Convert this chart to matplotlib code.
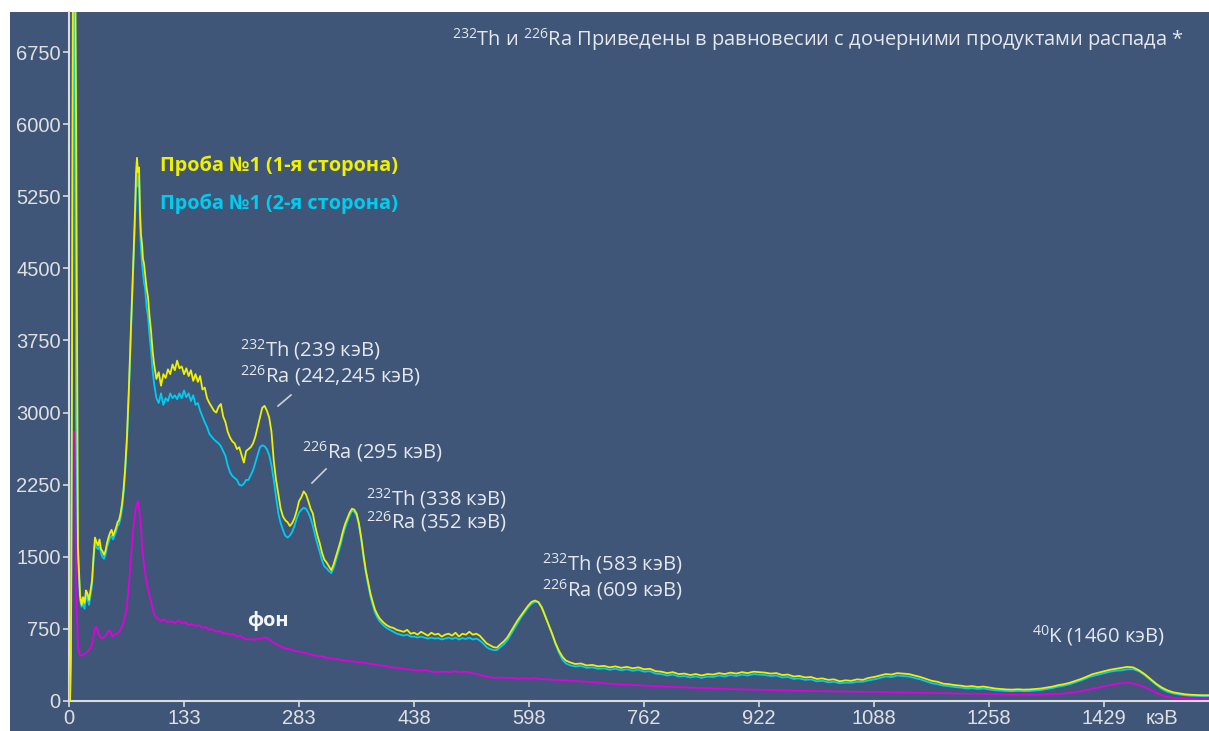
import matplotlib
matplotlib.use("Agg")
import matplotlib.pyplot as plt
from matplotlib.lines import Line2D
from matplotlib.patches import Rectangle

plt.rcParams['font.family'] = ['Open Sans', 'DejaVu Sans']
plt.rcParams['mathtext.fontset'] = 'custom'
plt.rcParams['mathtext.rm'] = 'Open Sans'
plt.rcParams['mathtext.it'] = 'Open Sans'
plt.rcParams['mathtext.bf'] = 'Open Sans:bold'

# ---------------- data (channel, counts) ----------------
tick_channels = [0, 100, 200, 300, 400, 500, 600, 700, 800, 900]
tick_labels_kev = ["0", "133", "283", "438", "598", "762", "922", "1088", "1258", "1429"]
y_ticks = [0, 750, 1500, 2250, 3000, 3750, 4500, 5250, 6000, 6750]

side1 = [(0, 0), (0.9, 0), (1.7, 500), (2.6, 3400), (3.5, 8000), (5.2, 8000), (6.1, 6300), (7.8, 1600),
         (9.6, 1100), (11, 1000), (12.2, 1080), (13.5, 1020), (14.8, 1150), (16, 1120), (17.4, 1050),
         (18.7, 1150), (20, 1250), (21.3, 1500), (22.6, 1700), (24, 1650), (25.2, 1620), (26.5, 1680),
         (27.8, 1580), (29, 1560), (30.4, 1520), (31.7, 1560), (33, 1640), (34.3, 1700), (35.7, 1750),
         (37, 1780), (38.3, 1720), (39.6, 1760), (40.9, 1800), (42.2, 1860), (43.5, 1880), (44.8, 1950),
         (46.1, 2050), (47.4, 2200), (48.7, 2400), (50.4, 2750), (52.2, 3300), (53.9, 3900), (55.7, 4500),
         (57.4, 5100), (58.3, 5500), (59.1, 5650), (60, 5500), (60.9, 5550), (61.7, 5100), (62.6, 4850),
         (63.5, 4750), (64.3, 4600), (65.2, 4550), (66.1, 4450), (67.4, 4300), (68.7, 4200), (70, 4000),
         (71.3, 3850), (72.6, 3650),
         (74, 3500), (76, 3350), (78, 3420), (80, 3280), (82, 3400), (84, 3360), (86, 3450), (88, 3400),
         (90, 3500), (92, 3440), (94, 3540), (96, 3460), (98, 3480), (100, 3400), (102, 3460), (104, 3380),
         (106, 3440), (108, 3330), (110, 3400), (112, 3320), (114, 3380), (116, 3240), (118, 3260),
         (120, 3150), (122, 3100), (124, 3060), (126, 3020), (128, 3000), (130, 3060), (132, 3090),
         (134, 2960), (136, 2900), (138, 2800), (140, 2740), (142, 2700), (144, 2680), (146, 2620),
         (148, 2640), (150, 2560), (152, 2480), (154, 2600), (156, 2620), (158, 2640), (160, 2680),
         (162, 2750), (164, 2850), (166, 2950), (168, 3050), (170, 3070), (172, 3020), (174, 2950),
         (176, 2800), (178, 2500), (180, 2300), (182, 2150), (184, 2000), (186, 1920), (188, 1880),
         (190, 1860), (192, 1820), (194, 1850), (196, 1900), (198, 1980), (200, 2080), (202, 2120),
         (204, 2180), (206, 2150), (208, 2080), (210, 2000), (212, 1950), (214, 1820), (216, 1720),
         (218, 1640), (220, 1540), (222, 1470), (224, 1440), (226, 1400), (228, 1360), (230, 1420),
         (232, 1500), (234, 1580), (236, 1660), (238, 1760), (240, 1840), (242, 1900), (244, 1960),
         (246, 2000), (248, 1990), (250, 1950), (252, 1850), (254, 1700), (256, 1520), (258, 1360),
         (260, 1240), (262, 1120), (264, 1030), (266, 950), (268, 900), (270, 860), (273, 820),
         (276, 790), (279, 770), (282, 760), (285, 740), (288, 730), (291, 720), (294, 740), (297, 700),
         (300, 710), (303, 690), (306, 720), (309, 700), (312, 680), (315, 710), (318, 690), (321, 700),
         (324, 670), (327, 690), (330, 700), (333, 680), (336, 710), (339, 670), (342, 700), (345, 690),
         (348, 720), (351, 690), (354, 700), (357, 680), (360, 640), (363, 600), (366, 580), (369, 560),
         (372, 555), (375, 590), (378, 620), (381, 660), (384, 720), (387, 780), (390, 840), (393, 890),
         (396, 940), (399, 990), (402, 1030), (405, 1045), (408, 1030), (411, 970), (414, 880), (417, 790),
         (420, 700), (423, 600), (426, 520), (429, 460), (432, 420), (436, 400), (440, 385), (445, 390),
         (450, 370), (455, 375), (460, 360), (465, 365), (470, 350), (475, 360), (480, 345), (485, 355),
         (490, 340), (495, 350), (500, 330), (505, 335), (510, 310), (515, 305), (520, 290), (525, 300),
         (530, 280), (535, 285), (540, 270), (545, 280), (550, 265), (555, 280), (560, 275), (565, 290),
         (570, 280), (575, 295), (580, 285), (585, 300), (590, 290), (595, 305), (600, 300), (605, 295),
         (610, 285), (615, 290), (620, 270), (625, 275), (630, 255), (635, 260), (640, 245), (645, 250),
         (650, 230), (655, 235), (660, 220), (665, 225), (670, 205), (675, 215), (680, 210), (685, 225),
         (690, 220), (695, 240), (700, 250), (705, 265), (710, 280), (715, 275), (720, 290), (725, 285),
         (730, 280), (735, 265), (740, 250), (745, 230), (750, 210), (755, 200), (760, 180), (765, 175),
         (770, 165), (775, 160), (780, 150), (785, 155), (790, 145), (795, 150), (800, 140), (805, 130),
         (810, 125), (815, 120), (820, 118), (825, 122), (830, 118), (835, 120), (840, 125), (845, 130),
         (850, 140), (855, 150), (860, 165), (865, 175), (870, 190), (875, 210), (880, 230), (885, 255),
         (890, 280), (895, 295), (900, 310), (905, 325), (910, 335), (915, 345), (920, 355), (925, 350),
         (930, 320), (935, 280), (940, 230), (945, 180), (950, 140), (955, 110), (960, 90), (965, 80),
         (970, 70), (975, 65), (980, 62), (985, 60), (991, 60)]

side2 = [(0, 0), (0.9, 0), (1.7, 500), (2.6, 3400), (3.5, 8000), (5.2, 6300), (6.1, 3000), (7.8, 1500),
         (9.6, 1050), (11, 980), (12.2, 1020), (13.5, 960), (14.8, 1100), (16, 1060), (17.4, 1000),
         (18.7, 1100), (20, 1200), (21.3, 1450), (22.6, 1650), (24, 1600), (25.2, 1580), (26.5, 1620),
         (27.8, 1540), (29, 1500), (30.4, 1480), (31.7, 1520), (33, 1600), (34.3, 1650), (35.7, 1700),
         (37, 1720), (38.3, 1680), (39.6, 1720), (40.9, 1760), (42.2, 1820), (43.5, 1840), (44.8, 1900),
         (46.1, 2000), (47.4, 2150), (48.7, 2350), (50.4, 2700), (52.2, 3250), (53.9, 3850), (55.7, 4450),
         (57.4, 5000), (58.3, 5350), (59.1, 5500), (60, 5350), (60.9, 5450), (61.7, 4950), (62.6, 4700),
         (63.5, 4550), (64.3, 4450), (65.2, 4350), (66.1, 4300), (67.4, 4100), (68.7, 4000), (70, 3800),
         (71.3, 3650), (72.6, 3450),
         (74, 3300), (76, 3150), (78, 3100), (80, 3200), (82, 3080), (84, 3150), (86, 3120), (88, 3200),
         (90, 3150), (92, 3180), (94, 3140), (96, 3200), (98, 3150), (100, 3230), (102, 3160), (104, 3200),
         (106, 3120), (108, 3180), (110, 3080), (112, 3100), (114, 3020), (116, 2960), (118, 2900),
         (120, 2850), (122, 2780), (124, 2750), (126, 2720), (128, 2700), (130, 2680), (132, 2650),
         (134, 2600), (136, 2550), (138, 2450), (140, 2380), (142, 2340), (144, 2320), (146, 2300),
         (148, 2250), (150, 2240), (152, 2260), (154, 2300), (156, 2300), (158, 2350), (160, 2400),
         (162, 2480), (164, 2560), (166, 2640), (168, 2660), (170, 2650), (172, 2620), (174, 2560),
         (176, 2450), (178, 2300), (180, 2120), (182, 1950), (184, 1850), (186, 1780), (188, 1720),
         (190, 1700), (192, 1720), (194, 1760), (196, 1820), (198, 1900), (200, 1960), (202, 1990),
         (204, 2010), (206, 2000), (208, 1960), (210, 1900), (212, 1820), (214, 1720), (216, 1630),
         (218, 1550), (220, 1460), (222, 1400), (224, 1380), (226, 1350), (228, 1330), (230, 1380),
         (232, 1460), (234, 1540), (236, 1620), (238, 1720), (240, 1800), (242, 1870), (244, 1930),
         (246, 1980), (248, 1970), (250, 1930), (252, 1830), (254, 1680), (256, 1500), (258, 1340),
         (260, 1210), (262, 1090), (264, 1000), (266, 920), (268, 870), (270, 830), (273, 790),
         (276, 760), (279, 740), (282, 720), (285, 700), (288, 690), (291, 680), (294, 690), (297, 670),
         (300, 670), (303, 660), (306, 670), (309, 660), (312, 650), (315, 660), (318, 650), (321, 655),
         (324, 640), (327, 650), (330, 660), (333, 645), (336, 660), (339, 640), (342, 655), (345, 645),
         (348, 660), (351, 640), (354, 650), (357, 630), (360, 600), (363, 560), (366, 540), (369, 530),
         (372, 530), (375, 560), (378, 590), (381, 630), (384, 690), (387, 750), (390, 810), (393, 870),
         (396, 920), (399, 970), (402, 1010), (405, 1030), (408, 1030), (411, 980), (414, 890), (417, 790),
         (420, 690), (423, 590), (426, 500), (429, 430), (432, 390), (436, 370), (440, 360), (445, 365),
         (450, 345), (455, 350), (460, 335), (465, 340), (470, 325), (475, 335), (480, 320), (485, 330),
         (490, 315), (495, 325), (500, 305), (505, 310), (510, 285), (515, 280), (520, 265), (525, 275),
         (530, 255), (535, 260), (540, 245), (545, 255), (550, 240), (555, 255), (560, 250), (565, 265),
         (570, 255), (575, 270), (580, 260), (585, 275), (590, 265), (595, 280), (600, 275), (605, 270),
         (610, 260), (615, 265), (620, 245), (625, 250), (630, 230), (635, 235), (640, 220), (645, 225),
         (650, 205), (655, 210), (660, 195), (665, 200), (670, 185), (675, 190), (680, 190), (685, 200),
         (690, 200), (695, 215), (700, 225), (705, 240), (710, 255), (715, 250), (720, 265), (725, 260),
         (730, 255), (735, 240), (740, 225), (745, 205), (750, 185), (755, 175), (760, 160), (765, 155),
         (770, 145), (775, 140), (780, 130), (785, 135), (790, 125), (795, 130), (800, 120), (805, 112),
         (810, 108), (815, 104), (820, 102), (825, 106), (830, 102), (835, 104), (840, 110), (845, 115),
         (850, 125), (855, 135), (860, 150), (865, 160), (870, 175), (875, 195), (880, 215), (885, 240),
         (890, 260), (895, 275), (900, 290), (905, 305), (910, 315), (915, 320), (920, 330), (925, 330),
         (930, 310), (935, 270), (940, 220), (945, 170), (950, 125), (955, 95), (960, 78), (965, 68),
         (970, 60), (975, 55), (980, 52), (985, 50), (991, 50)]

background = [(0, 0), (0.9, 0), (1.7, 300), (2.6, 2100), (3.5, 2800), (5.2, 2800), (6.1, 1200), (7.8, 560),
              (9.6, 470), (12.2, 480), (15, 500), (18, 540), (20, 580), (22.6, 760), (24, 770), (26, 680),
              (29, 650), (32, 680), (35, 740), (38, 670), (41, 700), (44, 720), (47, 800), (50, 950),
              (52, 1200), (54, 1500), (56, 1800), (58, 2000), (60, 2080), (62, 1900), (64, 1550),
              (66, 1350), (68, 1200), (71, 1050), (74, 900), (77, 860), (80, 830), (83, 850), (86, 820),
              (89, 830), (92, 810), (95, 840), (98, 810), (101, 820), (104, 790), (107, 800), (110, 780),
              (113, 790), (116, 760), (119, 770), (122, 740), (125, 745), (128, 720), (131, 730),
              (134, 700), (137, 705), (140, 690), (143, 695), (146, 670), (149, 680), (152, 650),
              (155, 640), (158, 645), (161, 635), (164, 650), (167, 645), (170, 660), (173, 650),
              (176, 620), (180, 590), (184, 570), (188, 545), (192, 540), (196, 520), (200, 515),
              (205, 500), (210, 485), (215, 470), (220, 465), (225, 445), (230, 440), (235, 430),
              (240, 420), (245, 415), (250, 405), (255, 400), (260, 390), (265, 380), (270, 370),
              (275, 365), (280, 350), (285, 345), (290, 335), (295, 330), (300, 320), (305, 315),
              (310, 320), (315, 305), (320, 300), (325, 305), (330, 300), (335, 310), (340, 300),
              (345, 305), (350, 290), (355, 280), (360, 262), (365, 250), (370, 240), (375, 245),
              (380, 238), (385, 242), (390, 230), (395, 235), (400, 232), (405, 236), (410, 228),
              (415, 225), (420, 220), (430, 215), (440, 208), (450, 200), (460, 190), (470, 180),
              (480, 172), (490, 165), (500, 160), (510, 152), (520, 148), (530, 145), (540, 140),
              (550, 135), (560, 130), (570, 125), (580, 122), (590, 118), (600, 115), (620, 110),
              (640, 105), (660, 100), (680, 96), (700, 94), (720, 90), (740, 85), (760, 80), (780, 75),
              (800, 70), (820, 66), (840, 66), (860, 72), (875, 90), (885, 115), (895, 140), (905, 165),
              (912, 180), (918, 190), (924, 185), (930, 165), (937, 135), (945, 85), (953, 45),
              (962, 30), (975, 22), (991, 20)]

# ---------------- figure ----------------
W, H = 1209, 731
fig = plt.figure(figsize=(W / 100, H / 100), dpi=100, facecolor='white')
PANEL = '#3f5679'
LIGHT = '#dcdcdc'

fig.add_artist(Rectangle((10 / W, 0), 1 - 10 / W, 1 - 12 / H, transform=fig.transFigure,
                         facecolor=PANEL, edgecolor='none', zorder=0))

ax = fig.add_axes([69 / W, 30 / H, (W - 69) / W, (701 - 12) / H])
ax.set_facecolor(PANEL)
ax.set_xlim(0, 991)
ax.set_ylim(0, 7167)


def unzip(pairs):
    return [p[0] for p in pairs], [p[1] for p in pairs]


ax.plot(*unzip(background), color='#e000e0', lw=1.3, zorder=3)
ax.plot(*unzip(side2), color='#00ccf0', lw=1.3, zorder=4)
ax.plot(*unzip(side1), color='#f0f000', lw=1.3, zorder=5)

for s in ['top', 'right']:
    ax.spines[s].set_visible(False)
for s in ['left', 'bottom']:
    ax.spines[s].set_color(LIGHT)
    ax.spines[s].set_linewidth(1.5)

ax.set_xticks(tick_channels)
ax.set_xticklabels(tick_labels_kev)
ax.set_yticks(y_ticks)
ax.set_yticklabels([str(v) for v in y_ticks])
ax.tick_params(axis='both', colors=LIGHT, length=4, width=1.2, labelsize=14.5, pad=2)
for lab in ax.get_xticklabels() + ax.get_yticklabels():
    lab.set_fontfamily(['Liberation Sans'])
    lab.set_color('#e0e0e0')


def P(px, py):
    return px / W, 1 - py / H


def ftext(px, py, s, **kw):
    opts = dict(ha='left', va='center', color='#e6e8ec', fontsize=14.6)
    opts.update(kw)
    fig.text(*P(px, py), s, **opts)


ftext(1146, 718, "кэВ", family=['Liberation Sans'], fontsize=14.5, color='#e0e0e0')

ftext(452, 40, r"$^{232}$Th и $^{226}$Ra Приведены в равновесии с дочерними продуктами распада *",
      fontsize=14.4)

ftext(160, 166, "Проба №1 (1-я сторона)", color='#f0f000', fontweight='bold', fontsize=14.3)
ftext(160, 204, "Проба №1 (2-я сторона)", color='#00ccf0', fontweight='bold', fontsize=14.3)

ftext(240, 350, r"$^{232}$Th (239 кэВ)")
ftext(240, 376, r"$^{226}$Ra (242,245 кэВ)")
ftext(302, 452, r"$^{226}$Ra (295 кэВ)")
ftext(366, 499, r"$^{232}$Th (338 кэВ)")
ftext(366, 522, r"$^{226}$Ra (352 кэВ)")
ftext(542, 564, r"$^{232}$Th (583 кэВ)")
ftext(542, 590, r"$^{226}$Ra (609 кэВ)")
ftext(1032, 636, r"$^{40}$K (1460 кэВ)")
ftext(247, 621, "фон", fontweight='bold', color='#f4f4f4', fontsize=14.3)

for (x0, y0, x1, y1) in [(278, 406, 291, 395), (312, 483, 326, 469)]:
    fig.add_artist(Line2D([x0 / W, x1 / W], [1 - y0 / H, 1 - y1 / H], color='#d0d0d0', lw=1.2,
                          transform=fig.transFigure))

fig.savefig("out.png", dpi=100, facecolor='white')
